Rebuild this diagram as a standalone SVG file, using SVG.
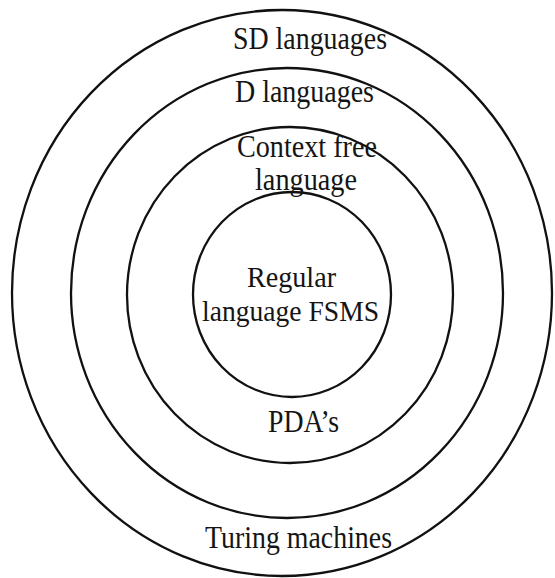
<svg xmlns="http://www.w3.org/2000/svg" width="555" height="578" viewBox="0 0 555 578">
  <style>
    .ring { fill: none; stroke: #111; stroke-width: 2.3; }
    .lbl { font-family: "Liberation Serif", "Times New Roman", serif; font-size: 32px; fill: #151515; }
    .tight { font-size: 30px; }
  </style>
  <rect width="555" height="578" fill="#fff"/>

  <!-- Outermost: Turing machines / SD languages -->
  <g id="sd-languages">
    <ellipse class="ring" cx="282" cy="293" rx="270" ry="283"/>
    <text class="lbl" x="233" y="49" textLength="154" lengthAdjust="spacingAndGlyphs">SD languages</text>
    <text class="lbl" x="205" y="548" textLength="187" lengthAdjust="spacingAndGlyphs">Turing machines</text>
  </g>

  <!-- D languages -->
  <g id="d-languages">
    <ellipse class="ring" cx="287" cy="293" rx="216" ry="225"/>
    <text class="lbl" x="235" y="102" textLength="139" lengthAdjust="spacingAndGlyphs">D languages</text>
  </g>

  <!-- Context free language / PDA's -->
  <g id="context-free">
    <ellipse class="ring" cx="290" cy="295" rx="163" ry="168"/>
    <text class="lbl" x="237" y="157" textLength="140" lengthAdjust="spacingAndGlyphs">Context free</text>
    <text class="lbl" x="255" y="190" textLength="102" lengthAdjust="spacingAndGlyphs">language</text>
    <text class="lbl" x="268" y="432" textLength="71" lengthAdjust="spacingAndGlyphs">PDA’s</text>
  </g>

  <!-- Regular language / FSMs -->
  <g id="regular">
    <ellipse class="ring" cx="292" cy="294.5" rx="99" ry="102.5"/>
    <text class="lbl tight" x="247" y="287" textLength="89" lengthAdjust="spacingAndGlyphs">Regular</text>
    <text class="lbl tight" x="202" y="321" textLength="177" lengthAdjust="spacingAndGlyphs">language FSMS</text>
  </g>

  <g id="connectors"/>
</svg>
